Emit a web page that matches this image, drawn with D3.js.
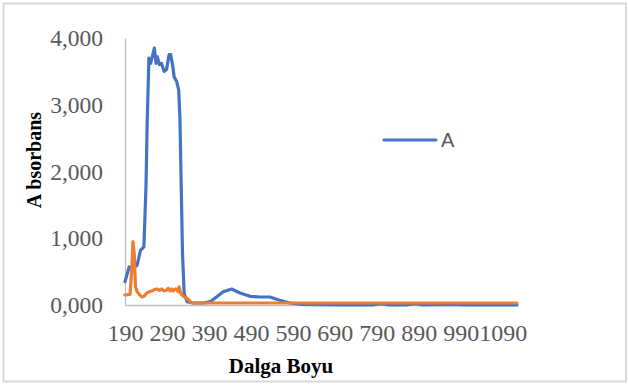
<!DOCTYPE html>
<html>
<head>
<meta charset="utf-8">
<script src="https://cdn.jsdelivr.net/npm/d3@7"></script>
<style>
  html, body { margin: 0; padding: 0; background: #fff; }
  svg { display: block; }
</style>
</head>
<body>
<svg id="chart" width="628" height="385"></svg>
<script>
// ---- Data ----
const seriesNames = ["A", ""];
const wavelengthsA = [190, 200, 210, 219, 227, 235, 240, 243, 247, 251, 255, 260, 264, 267, 272, 277, 283, 289, 295, 299, 304, 307, 313, 318, 321, 324, 327, 331, 338, 353, 377, 393, 408, 424, 444, 464, 488, 512, 535, 559, 583, 610, 700, 780, 800, 820, 860, 880, 900, 960, 1000, 1060, 1124];
const valuesA      = [0.35, 0.57, 0.55, 0.60, 0.82, 0.87, 1.77, 2.77, 3.70, 3.62, 3.72, 3.85, 3.62, 3.72, 3.60, 3.62, 3.50, 3.53, 3.75, 3.75, 3.57, 3.42, 3.35, 3.22, 2.77, 1.77, 0.78, 0.17, 0.05, 0.03, 0.03, 0.05, 0.12, 0.20, 0.24, 0.18, 0.13, 0.12, 0.12, 0.07, 0.03, 0.01, 0.00, 0.00, 0.02, 0.00, 0.00, 0.02, 0.00, 0.01, 0.00, 0.00, 0.00];
const wavelengthsB = [190, 202, 206, 209, 212, 215, 219, 224, 230, 235, 242, 248, 254, 260, 266, 272, 277, 283, 289, 293, 297, 301, 305, 309, 313, 316, 319, 323, 329, 338, 349, 1124];
const valuesB      = [0.15, 0.16, 0.52, 0.95, 0.77, 0.27, 0.20, 0.16, 0.12, 0.13, 0.18, 0.20, 0.21, 0.23, 0.24, 0.22, 0.24, 0.21, 0.22, 0.25, 0.21, 0.24, 0.21, 0.24, 0.24, 0.20, 0.27, 0.17, 0.13, 0.10, 0.03, 0.03];
const xTickLabels = [190, 290, 390, 490, 590, 690, 790, 890, 990, 1090];
const yTickLabels = [0, 1, 2, 3, 4];
const xTitle = "Dalga Boyu";
const yTitle = "Absorbans";

// ---- Layout ----
const svg = d3.select("#chart");
const plotL = 125, plotR = 517, plotT = 38, plotB = 305;

const x = d3.scaleLinear().domain([190, 1124]).range([plotL, plotR]);
const y = d3.scaleLinear().domain([0, 4]).range([plotB, plotT]);

// outer border
svg.append("rect")
  .attr("x", 3.5).attr("y", 3.5).attr("width", 622.5).attr("height", 378)
  .attr("fill", "#fff").attr("stroke", "#d9d9d9").attr("stroke-width", 2);

const fmt = v => d3.format(".3f")(v).replace(".", ",");

// Y axis
const yAxis = svg.append("g").attr("transform", `translate(${plotL},0)`)
  .call(d3.axisLeft(y).tickValues(yTickLabels).tickSize(0).tickPadding(22)
    .tickFormat(fmt));
yAxis.select(".domain").attr("stroke", "#bfbfbf").attr("stroke-width", 1.3);
yAxis.selectAll("text")
  .attr("font-family", "'Liberation Serif', 'Times New Roman', serif")
  .attr("font-size", 23.5).attr("fill", "#595959");

// X axis
const xAxis = svg.append("g").attr("transform", `translate(0,${plotB})`)
  .call(d3.axisBottom(x).tickValues(xTickLabels).tickSize(0).tickPadding(19)
    .tickFormat(d => String(d)));
xAxis.select(".domain").attr("stroke", "#bfbfbf").attr("stroke-width", 1.3);
xAxis.selectAll("text")
  .attr("font-family", "'Liberation Serif', 'Times New Roman', serif")
  .attr("font-size", 24).attr("fill", "#595959");

// Lines
const line = d3.line().x(d => x(d[0])).y(d => y(d[1]));
const dataA = wavelengthsA.map((w, i) => [w, valuesA[i]]);
const dataB = wavelengthsB.map((w, i) => [w, valuesB[i]]);

svg.append("path").datum(dataA)
  .attr("d", line).attr("fill", "none")
  .attr("stroke", "#4472C4").attr("stroke-width", 3.2)
  .attr("stroke-linejoin", "round").attr("stroke-linecap", "round");
svg.append("path").datum(dataB)
  .attr("d", line).attr("fill", "none")
  .attr("stroke", "#ED7D31").attr("stroke-width", 3.2)
  .attr("stroke-linejoin", "round").attr("stroke-linecap", "round");

// Axis titles
svg.append("text")
  .attr("x", 281).attr("y", 373)
  .attr("text-anchor", "middle")
  .attr("font-family", "'Liberation Serif', 'Times New Roman', serif")
  .attr("font-weight", "bold").attr("font-size", 21).attr("fill", "#000")
  .text(xTitle);

const yt = svg.append("text")
  .attr("transform", "translate(41,160) rotate(-90)")
  .attr("text-anchor", "middle")
  .attr("font-family", "'Liberation Serif', 'Times New Roman', serif")
  .attr("font-weight", "bold").attr("font-size", 20).attr("fill", "#000");
yt.append("tspan").text(yTitle.slice(0, 1));
yt.append("tspan").attr("dx", 4).text(yTitle.slice(1));

// Legend
const lg = svg.append("g");
lg.append("line")
  .attr("x1", 384).attr("x2", 436).attr("y1", 140).attr("y2", 140)
  .attr("stroke", "#4472C4").attr("stroke-width", 3.2).attr("stroke-linecap", "round");
lg.append("text")
  .attr("x", 441).attr("y", 147)
  .attr("font-family", "'Liberation Sans', Arial, sans-serif")
  .attr("font-size", 20).attr("fill", "#595959")
  .text(seriesNames[0]);
</script>
</body>
</html>
